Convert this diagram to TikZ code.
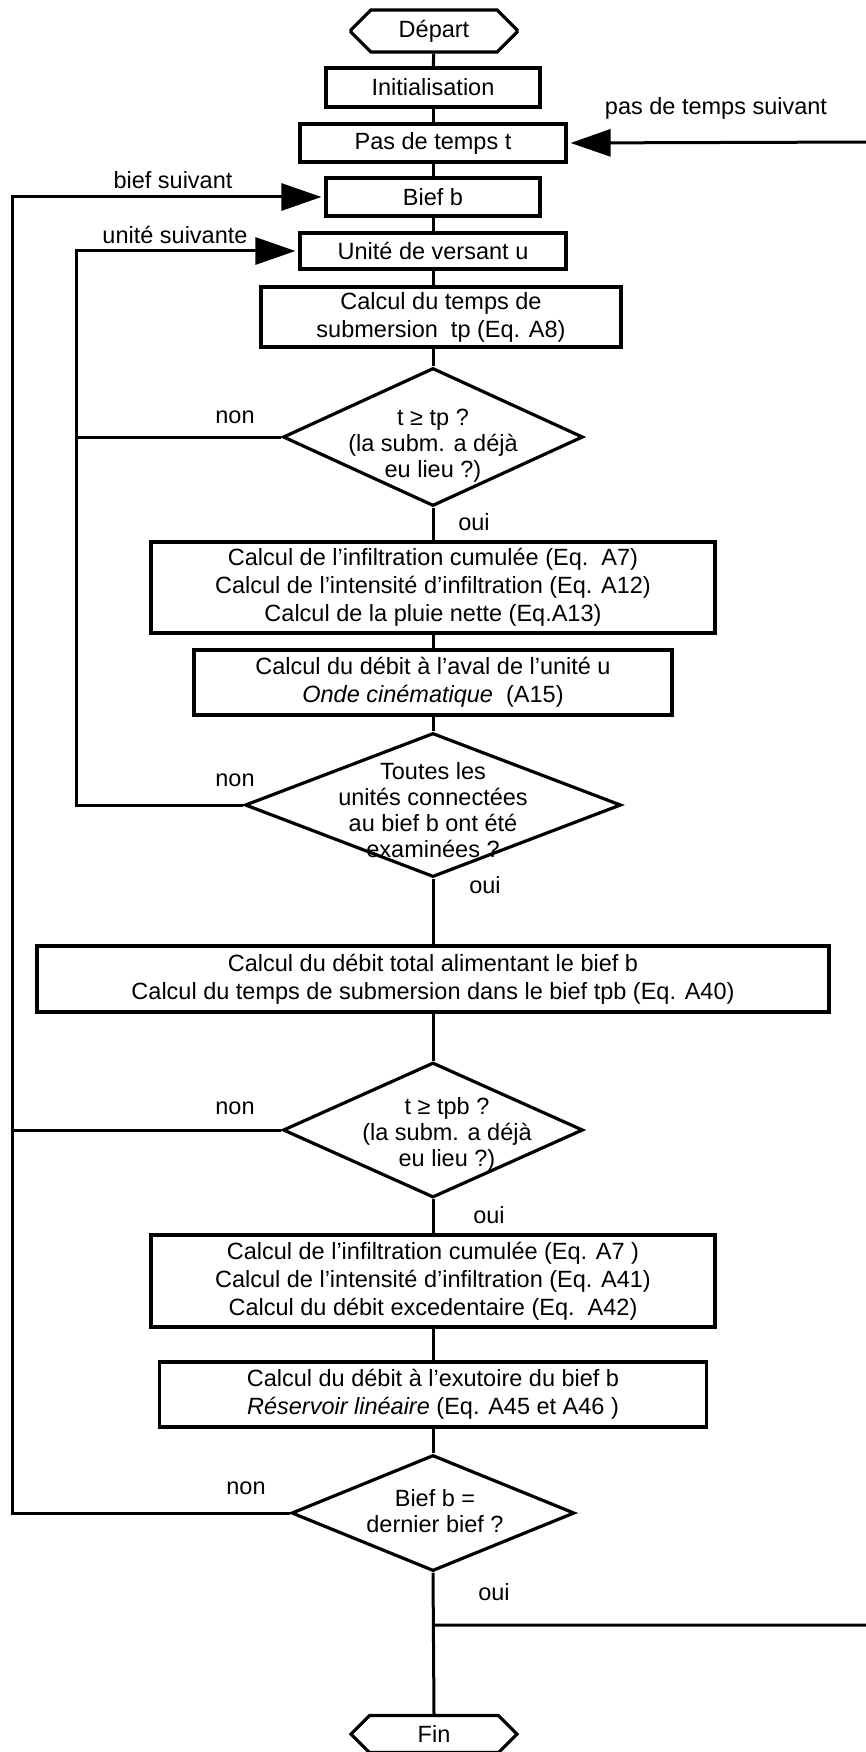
\documentclass[tikz,border=0pt]{standalone}
\usepackage{fontspec}
\setmainfont{Liberation Sans}
\usetikzlibrary{arrows.meta,shapes.geometric,shapes.misc}
\begin{document}
\begin{tikzpicture}[x=1pt,y=-1pt,line width=3.2pt,
  every node/.style={font=\fontsize{23.5}{28}\selectfont},
  box/.style={draw,rectangle,inner sep=0pt,align=center},
  term/.style={draw,chamfered rectangle,chamfered rectangle xsep=10pt,chamfered rectangle ysep=10pt,inner sep=0pt,minimum width=166pt,minimum height=37pt},
  diam/.style={draw,diamond,inner sep=0pt,aspect=1},
  dtxt/.style={align=center,inner sep=0pt,font=\fontsize{23.5}{26}\selectfont},
  lbl/.style={inner sep=0pt},
  link/.style={line width=3pt},
  arr/.style={line width=3pt,-{Triangle[length=40pt,width=27pt]},shorten >=3pt}]
\useasboundingbox (0,0) rectangle (865,1752);

\node[term] (depart) at (434,31) {Départ};
\node[box,minimum width=214pt,minimum height=39pt] (init) at (433,87.5) {Initialisation};
\node[box,minimum width=266pt,minimum height=38pt] (pas) at (433,143) {Pas de temps t};
\node[box,minimum width=214pt,minimum height=38pt] (bief) at (433,197) {Bief b};
\node[box,minimum width=266pt,minimum height=36pt] (unite) at (433,251) {Unité de versant u};
\node[box,minimum width=360pt,minimum height=60pt] (calctp) at (441,317) {Calcul du temps de\\submersion\ \ tp (Eq. A8)};
\node[diam,minimum width=300pt,minimum height=138pt] (d1) at (433,437) {};
\node[dtxt] (d1t) at (433,446) {t ≥ tp ?\\(la subm. a déjà\\eu lieu ?)};
\node[box,minimum width=564pt,minimum height=91pt] (infil) at (433,587.5) {Calcul de l'infiltration cumulée (Eq.\ \ A7)\\Calcul de l'intensité d'infiltration (Eq. A12)\\Calcul de la pluie nette (Eq.A13)};
\node[box,minimum width=478pt,minimum height=65pt] (aval) at (433,682.5) {Calcul du débit à l'aval de l'unité u\\\textit{Onde cinématique}\ \ (A15)};
\node[diam,minimum width=376pt,minimum height=144pt] (d2) at (433,805) {};
\node[dtxt] (d2t) at (433,810) {Toutes les\\unités connectées\\au bief b ont été\\examinées ?};
\node[box,minimum width=792pt,minimum height=66pt] (total) at (433,979) {Calcul du débit total alimentant le bief b\\Calcul du temps de submersion dans le bief tpb (Eq. A40)};
\node[diam,minimum width=300pt,minimum height=135pt] (d3) at (433,1130) {};
\node[dtxt] (d3t) at (447,1134) {t ≥ tpb ?\\(la subm. a déjà\\eu lieu ?)};
\node[box,minimum width=564pt,minimum height=92pt] (infil2) at (433,1281) {Calcul de l'infiltration cumulée (Eq. A7 )\\Calcul de l'intensité d'infiltration (Eq. A41)\\Calcul du débit excedentaire (Eq.\ \ A42)};
\node[box,minimum width=547pt,minimum height=65pt] (exut) at (433,1394.5) {Calcul du débit à l'exutoire du bief b\\\textit{Réservoir linéaire} (Eq. A45 et A46 )};
\node[diam,minimum width=283pt,minimum height=116pt] (d4) at (433,1513) {};
\node[dtxt] (d4t) at (435,1511) {Bief b =\\dernier bief ?};
\node[term,minimum height=36pt] (fin) at (434,1734) {Fin};

\coordinate (J) at (433,1625);
\coordinate (R) at (875,142);
\coordinate (OL) at (12,197);
\coordinate (IL) at (76,251);

% labels
\node[lbl] (lpas) at (716,108) {pas de temps suivant};
\node[lbl] (lbief) at (173,180) {bief suivant};
\node[lbl] (lunite) at (175,235) {unité suivante};
\node[lbl] (n1) at (235,417) {non};
\node[lbl] (o1) at (474,522) {oui};
\node[lbl] (n2) at (235,780) {non};
\node[lbl] (o2) at (485,885) {oui};
\node[lbl] (n3) at (235,1108) {non};
\node[lbl] (o3) at (489,1215) {oui};
\node[lbl] (n4) at (246,1488) {non};
\node[lbl] (o4) at (494,1592) {oui};

% main flow
\draw[link] (depart) -- (init);
\draw[link] (init) -- (pas);
\draw[link] (pas) -- (bief);
\draw[link] (bief) -- (unite);
\draw[link] (unite.south) -- (unite.south |- calctp.north);
\draw[link] (calctp.south -| d1.north) -- (d1.north);
\draw[link] (d1) -- (infil);
\draw[link] (infil) -- (aval);
\draw[link] (aval) -- (d2);
\draw[link] (d2) -- (total);
\draw[link] (total) -- (d3);
\draw[link] (d3) -- (infil2);
\draw[link] (infil2) -- (exut);
\draw[link] (exut) -- (d4);
\draw[link] (d4.south) -- (fin.north);

% loops
\draw[arr] (d2.west) -| (IL) -- (unite.west);
\draw[link] (d1.west) -- (d1.west -| IL);
\draw[arr] (d4.west) -| (OL) -- (bief.west);
\draw[link] (d3.west) -- (d3.west -| OL);
\draw[arr] (J) -| (R) -- (pas.east);
\end{tikzpicture}
\end{document}
